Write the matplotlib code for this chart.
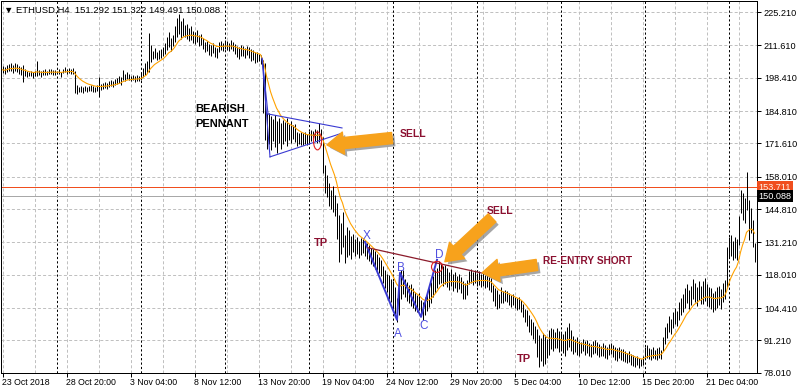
import numpy as np
import pandas as pd
import matplotlib
matplotlib.use("Agg")
import matplotlib.pyplot as plt
from matplotlib.patches import Ellipse
import matplotlib.patheffects as pe

plt.rcParams['font.family'] = ['Liberation Sans', 'DejaVu Sans']

# ETHUSD H4 bars (bar 0 = 23 Oct 2018 12:00)
highs = [
    203.1, 202.6, 203.4, 203.9, 204.3, 203.6, 204.6, 203.8, 203.2, 202.9,
    203.5, 201.9, 201.2, 200.8, 201.0, 200.7, 201.3, 205.3, 201.6, 201.1,
    201.4, 201.8, 201.2, 201.9, 202.1, 201.7, 201.5, 201.3, 201.9, 200.9,
    202.1, 202.6, 201.8, 202.4, 202.0, 202.3, 201.2, 195.3, 194.6, 195.1,
    194.8, 195.2, 194.5, 195.0, 195.6, 195.1, 194.7, 195.3, 198.6, 195.9,
    196.4, 196.8, 196.2, 197.0, 197.3, 196.9, 197.8, 198.4, 199.2, 198.6,
    201.5, 199.8, 200.6, 199.9, 199.2, 199.6, 198.9, 199.4, 199.1, 200.4,
    202.4, 204.4, 205.1, 216.6, 211.8, 209.2, 210.6, 208.7, 209.9, 210.3,
    210.8, 212.4, 215.2, 217.1, 214.6, 216.0, 219.3, 222.6, 224.2, 221.5,
    222.9, 219.8, 220.4, 218.7, 219.5, 217.6, 216.9, 217.8, 215.9, 216.4,
    214.6, 212.8, 213.4, 212.1, 211.6, 212.4, 211.0, 210.5, 212.9, 213.5,
    212.7, 213.8, 213.2, 212.5, 213.6, 212.9, 212.1, 211.4, 210.8, 211.6,
    211.2, 210.4, 211.5, 210.9, 210.1, 209.6, 209.0, 208.7, 208.2, 207.8,
    205.5, 204.3, 183.8, 184.2, 182.6, 181.4, 183.1, 180.6, 181.9, 179.8,
    181.2, 180.4, 181.8, 179.6, 180.8, 178.9, 179.5, 176.2, 175.8, 176.4,
    175.9, 176.3, 175.4, 176.8, 177.2, 176.5, 177.6, 176.9, 179.8, 177.4,
    174.2, 162.8, 158.6, 155.3, 152.4, 154.1, 150.6, 147.2, 142.5, 139.1,
    143.6, 134.1, 137.4, 136.2, 133.9, 134.8, 132.6, 133.4, 131.8, 132.9,
    132.4, 131.7, 130.9, 130.2, 129.1, 128.4, 127.6, 126.3, 125.1, 124.2,
    121.6, 119.8, 118.4, 117.9, 116.2, 115.3, 113.1, 108.7, 114.6, 119.9,
    120.1, 116.4, 115.2, 113.8, 114.3, 112.6, 111.1, 109.8, 110.4, 107.6,
    106.8, 108.9, 110.6, 112.4, 115.1, 117.3, 119.8, 120.9, 123.7, 122.8,
    121.4, 122.1, 120.6, 119.3, 120.2, 118.4, 119.1, 117.6, 118.3, 116.9,
    115.4, 114.8, 115.9, 119.6, 120.3, 119.1, 119.8, 118.7, 119.4, 118.2,
    118.9, 117.8, 118.4, 117.2, 116.6, 113.9, 112.4, 111.6, 110.2, 112.8,
    111.2, 111.9, 111.5, 110.6, 109.8, 110.3, 109.1, 108.4, 108.9, 107.6,
    106.1, 104.2, 103.5, 101.4, 99.8, 98.6, 96.9, 95.8, 93.4, 92.1,
    94.3, 93.5, 91.8, 95.6, 96.4, 95.9, 94.7, 96.2, 95.1, 94.4,
    93.8, 95.2, 96.6, 98.4, 95.3, 92.8, 91.6, 92.4, 91.1, 90.7,
    91.9, 90.8, 91.4, 90.2, 89.6, 90.9, 91.3, 90.4, 89.7, 89.1,
    90.1, 89.4, 88.6, 89.8, 90.3, 89.2, 88.4, 87.9, 88.7, 87.6,
    87.5, 86.9, 86.2, 86.8, 85.7, 85.1, 84.6, 84.9, 84.2, 83.8,
    84.9, 88.7, 89.3, 88.1, 87.6, 88.4, 87.2, 87.9, 88.5, 87.4,
    92.6, 96.8, 98.4, 101.2, 99.8, 102.6, 104.3, 103.1, 106.8, 108.4,
    110.2, 112.6, 114.1, 111.8, 113.4, 116.2, 114.7, 112.9, 115.3, 113.6,
    115.4, 116.8, 114.2, 113.1, 112.4, 110.6, 111.3, 112.8, 113.6, 112.1,
    114.5, 115.9, 129.4, 133.6, 134.1, 131.9, 133.2, 132.4, 141.8, 152.6,
    151.4, 149.2, 159.9, 148.5, 145.1, 140.4, 131.0,
]
lows = [
    200.2, 199.8, 200.6, 201.0, 201.2, 200.4, 201.3, 200.8, 200.1, 199.7,
    196.7, 199.1, 198.6, 198.9, 199.0, 198.4, 199.2, 199.0, 199.3, 198.8,
    199.3, 199.7, 199.4, 199.9, 200.0, 199.6, 199.5, 199.8, 199.9, 198.7,
    200.2, 200.6, 200.0, 200.5, 199.9, 200.1, 192.2, 191.9, 192.4, 192.6,
    192.3, 193.0, 192.5, 192.8, 193.1, 192.7, 192.4, 193.0, 190.5, 193.2,
    193.8, 194.2, 193.9, 194.6, 194.9, 194.5, 195.3, 195.8, 196.1, 195.6,
    197.6, 197.2, 197.9, 197.4, 197.0, 197.3, 196.8, 197.1, 196.9, 197.5,
    198.7, 199.4, 200.2, 200.7, 205.0, 205.9, 206.3, 205.7, 206.1, 206.6,
    207.1, 207.9, 209.6, 210.8, 209.4, 211.2, 213.1, 215.0, 216.4, 214.3,
    215.6, 214.9, 214.2, 213.5, 213.9, 212.6, 212.0, 212.8, 211.4, 211.7,
    210.1, 208.9, 209.4, 207.6, 207.2, 208.3, 206.9, 206.5, 208.7, 209.6,
    209.4, 210.2, 209.6, 209.1, 210.0, 209.3, 208.2, 206.9, 206.1, 207.4,
    207.3, 206.6, 207.8, 206.4, 205.2, 205.7, 204.6, 205.0, 205.3, 204.1,
    184.0, 172.9, 169.2, 171.4, 168.8, 172.6, 170.3, 167.8, 171.9, 169.5,
    171.3, 172.5, 170.4, 172.8, 171.6, 173.4, 172.1, 170.6, 171.2, 170.8,
    171.0, 171.5, 170.9, 171.8, 172.4, 171.9, 172.6, 171.7, 172.3, 170.8,
    159.6, 151.4, 149.8, 146.2, 145.0, 143.8, 141.9, 132.7, 123.0, 126.4,
    129.4, 122.9, 125.3, 126.0, 124.4, 127.1, 125.8, 126.5, 124.9, 126.2,
    126.8, 125.5, 124.3, 123.6, 122.4, 121.7, 120.3, 119.8, 118.9, 117.6,
    114.8, 112.6, 110.9, 108.3, 106.7, 104.1, 101.8, 98.8, 101.6, 108.2,
    110.3, 108.9, 107.2, 106.4, 105.1, 104.3, 103.2, 102.8, 103.6, 101.5,
    99.6, 101.4, 103.2, 104.7, 106.5, 108.9, 110.7, 112.6, 114.1, 114.8,
    113.6, 114.3, 112.8, 111.9, 113.4, 111.2, 112.5, 110.8, 112.1, 110.4,
    108.2, 107.9, 109.6, 114.1, 114.8, 113.7, 114.5, 113.2, 114.0, 112.9,
    113.4, 112.6, 113.1, 111.8, 110.9, 107.4, 105.2, 103.9, 104.6, 106.3,
    106.4, 107.1, 106.8, 105.7, 105.0, 105.6, 104.3, 103.8, 104.2, 102.6,
    100.8, 98.7, 96.9, 94.8, 93.6, 91.9, 90.1, 84.6, 80.2, 82.7,
    80.6, 81.4, 83.9, 85.2, 87.6, 86.8, 88.3, 87.9, 86.4, 87.1,
    86.2, 84.8, 87.3, 88.6, 86.9, 85.7, 86.4, 85.2, 84.9, 86.1,
    86.8, 85.4, 86.2, 84.7, 84.3, 85.6, 86.0, 85.1, 84.4, 84.8,
    84.9, 84.1, 83.6, 85.2, 85.8, 84.6, 83.4, 83.0, 84.0, 83.3,
    82.7, 82.3, 81.8, 82.4, 81.2, 80.9, 80.4, 81.0, 80.1, 80.6,
    81.3, 83.6, 84.2, 83.8, 83.1, 84.0, 83.5, 83.3, 84.1, 83.7,
    86.9, 89.7, 92.1, 94.6, 93.8, 96.2, 97.9, 97.1, 99.4, 101.6,
    102.8, 104.6, 106.3, 104.1, 105.8, 108.2, 107.0, 105.4, 107.6, 105.9,
    106.2, 107.4, 105.3, 104.8, 103.9, 102.7, 103.5, 104.6, 105.8, 104.2,
    106.8, 108.3, 112.7, 124.8, 125.6, 123.9, 124.7, 124.1, 130.2, 143.2,
    140.4, 139.1, 144.5, 132.2, 135.0, 129.4, 123.2,
]

# axis labels
price_ticks = [78.010, 91.210, 104.410, 118.010, 131.210, 144.810,
               158.010, 171.610, 184.810, 198.410, 211.610, 225.210]
date_labels = ['23 Oct 2018', '28 Oct 20:00', '3 Nov 04:00', '8 Nov 12:00',
               '13 Nov 20:00', '19 Nov 04:00', '24 Nov 12:00', '29 Nov 20:00',
               '5 Dec 04:00', '10 Dec 12:00', '15 Dec 20:00', '21 Dec 04:00']
week_starts = [27, 69, 111, 153, 195, 237, 279, 321, 363]   # Sunday 00:00 bars
ask_price = 153.711
bid_price = 150.088

# drawn objects (bar index, price)
pole = [(129.75, 206.4), (133.75, 166.1), (129.9, 206.0), (132.75, 183.6)]
pennant_top = [(132.75, 183.6), (169.75, 177.9)]
pennant_bot = [(133.75, 166.1), (168.75, 175.5)]
xabcd_x = [181.25, 197.25, 198.75, 209.25, 217.25]
xabcd_p = [131.4, 99.6, 118.8, 100.8, 124.1]
trend_x = [182.75, 241.25]
trend_p = [129.0, 118.4]

n = len(highs)
idx = np.arange(n)
h = np.array(highs)
l = np.array(lows)
ma = pd.Series((h + l) / 2).ewm(span=12).mean()

fig = plt.figure(figsize=(7.97, 3.89), dpi=100)
ax = fig.add_axes([1 / 797, 16 / 389, 756 / 797, 372 / 389])
ax.set_xlim(-0.75, 377.25)
ax.set_ylim(77.9, 229.7)

# grid
for p in price_ticks:
    ax.axhline(p, color='#c0c0c0', lw=0.72, ls=(0, (3, 2.2)), zorder=0)
for g in range(0, 377, 16):
    ax.axvline(g, color='#c0c0c0', lw=0.72, ls=(0, (3, 2.2)), zorder=0)
for w in week_starts:
    ax.axvline(w, color='black', lw=0.72, ls=(0, (2.2, 2.2)), zorder=1)

# price lines
ax.axhline(ask_price, color='#f04e1e', lw=0.72, zorder=1)
ax.axhline(bid_price, color='#a8a8a8', lw=0.72, zorder=1)

# bars + MA
ax.vlines(idx, l, h, color='black', lw=0.72, zorder=2)
ax.plot(idx, ma, color='#ffa200', lw=0.8, zorder=3)

# pennant
blue = '#3a3ad2'
ax.plot([pole[0][0], pole[1][0]], [pole[0][1], pole[1][1]], color=blue, lw=0.8, zorder=4)
ax.plot([pole[2][0], pole[3][0]], [pole[2][1], pole[3][1]], color=blue, lw=0.8, zorder=4)
ax.plot(*zip(*pennant_top), color=blue, lw=0.8, zorder=4)
ax.plot(*zip(*pennant_bot), color=blue, lw=0.8, zorder=4)

# XABCD pattern
ax.plot(xabcd_x, xabcd_p, color=blue, lw=1.4, zorder=4)
ax.plot(trend_x, trend_p, color='#8b1a2a', lw=0.9, zorder=4)
for t, (x, y) in zip('XABCD', [(182.2, 133.9), (197.8, 93.9), (199.2, 120.8),
                             (210.8, 97.1), (218.2, 126.1)]):
    ax.text(x, y, t, color='#5050e0', fontsize=8.5, ha='center', va='center', zorder=5)

ax.add_patch(Ellipse((157.5, 172.6), 4.0, 7.3, fill=False, ec='#e02020', lw=0.8, zorder=5))
ax.add_patch(Ellipse((217.25, 121.2), 5.5, 4.5, fill=False, ec='#e02020', lw=0.8, zorder=5))

# arrows
orange = '#f7a21c'
shadow = [pe.withSimplePatchShadow(offset=(2, -2), shadow_rgbFace='#808080', alpha=0.7)]
for head, tail in [((162.2, 171.0), (194.8, 173.8)),
                   ((221.2, 123.3), (244.8, 141.2)),
                   ((239.8, 118.8), (267.2, 122.0))]:
    ax.annotate('', xy=head, xytext=tail, zorder=6,
                arrowprops=dict(arrowstyle='simple,head_length=1.2,head_width=1.6,tail_width=0.8',
                                fc=orange, ec=orange, mutation_scale=10,
                                shrinkA=0, shrinkB=0, path_effects=shadow))

# labels
maroon = '#8b1030'
ax.text(96.2, 185.6, 'BEARISH', fontsize=8, fontweight='bold', va='center', zorder=5)
ax.text(96.2, 179.5, 'PENNANT', fontsize=8, fontweight='bold', va='center', zorder=5)
ax.text(198.8, 175.5, 'SELL', color=maroon, fontsize=7.5, fontweight='bold', va='center', zorder=5)
ax.text(155.8, 131.0, 'TP', color=maroon, fontsize=8, fontweight='bold', va='center', zorder=5)
ax.text(242.2, 144.1, 'SELL', color=maroon, fontsize=7.5, fontweight='bold', va='center', zorder=5)
ax.text(270.2, 123.7, 'RE-ENTRY SHORT', color=maroon, fontsize=7.3, fontweight='bold', va='center', zorder=5)
ax.text(257.2, 83.7, 'TP', color=maroon, fontsize=8, fontweight='bold', va='center', zorder=5)

ax.text(0.004, 0.976, '\u25bc ETHUSD,H4  151.292 151.322 149.491 150.088',
        transform=ax.transAxes, fontsize=6.8, va='center', ha='left', zorder=7)

# axes
ax.yaxis.tick_right()
ax.set_yticks(price_ticks)
ax.set_yticklabels(['%.3f' % p for p in price_ticks])
ax.set_xticks(range(0, 353, 32))
ax.set_xticklabels(date_labels)
for lab in ax.get_xticklabels():
    lab.set_horizontalalignment('left')
ax.tick_params(axis='y', length=3, width=0.72, pad=2, labelsize=6.6, direction='out')
ax.tick_params(axis='x', length=3, width=0.72, pad=0.5, labelsize=6.3, direction='out')
for s in ax.spines.values():
    s.set_color('black')
    s.set_linewidth(0.72)

# price tags on right
ax.text(1.002, ask_price, '153.711', transform=ax.get_yaxis_transform(), fontsize=6.6,
        color='#fff4ea', va='center', ha='left', zorder=8, clip_on=False,
        bbox=dict(boxstyle='square,pad=0.18', fc='#f04e1e', ec='none'))
ax.text(1.002, bid_price, '150.088', transform=ax.get_yaxis_transform(), fontsize=6.6,
        color='white', va='center', ha='left', zorder=8, clip_on=False,
        bbox=dict(boxstyle='square,pad=0.18', fc='black', ec='none'))

fig.savefig('out.png', dpi=100)
